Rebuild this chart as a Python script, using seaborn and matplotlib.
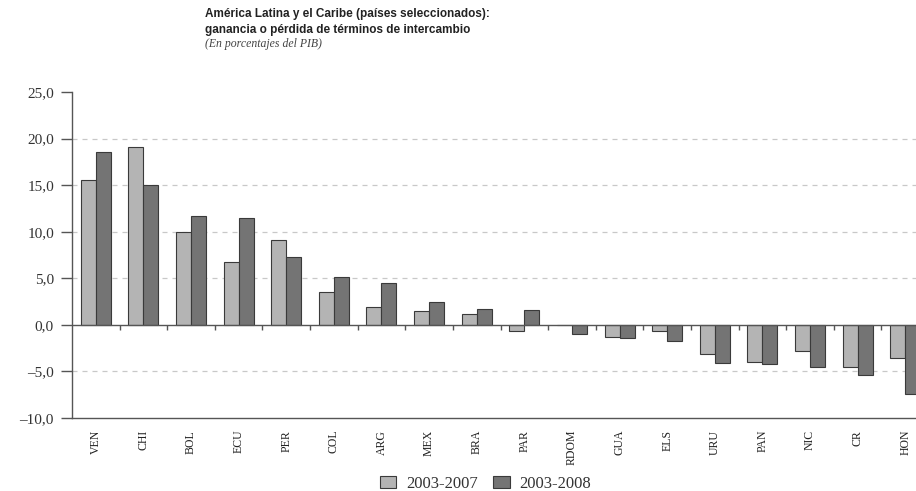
import numpy as np
import pandas as pd
import seaborn as sns
import matplotlib
from matplotlib import pyplot as plt
from matplotlib.ticker import FuncFormatter

paises = ["VEN", "CHI", "BOL", "ECU", "PER", "COL", "ARG", "MEX", "BRA",
          "PAR", "RDOM", "GUA", "ELS", "URU", "PAN", "NIC", "CR", "HON"]
periodos = ["2003-2007", "2003-2008"]
v_2007 = [15.6, 19.1, 10.0, 6.8, 9.1, 3.5, 1.9, 1.5, 1.15,
          -0.7, 0.0, -1.3, -0.7, -3.1, -3.95, -2.85, -4.5, -3.6]
v_2008 = [18.6, 15.05, 11.65, 11.5, 7.3, 5.1, 4.5, 2.5, 1.7,
          1.55, -1.0, -1.45, -1.75, -4.05, -4.2, -4.55, -5.4, -7.4]

df = pd.DataFrame({
    "pais": paises * 2,
    "valor": v_2007 + v_2008,
    "periodo": [periodos[0]] * len(paises) + [periodos[1]] * len(paises),
})

sns.set_style("white")
serif = ["Liberation Serif", "DejaVu Serif"]
sans = ["Liberation Sans", "DejaVu Sans"]

fig = plt.figure(figsize=(9.16, 4.91), dpi=100)
ax = fig.add_axes([0.0786, 0.1487, 0.9356, 0.6639])

sns.barplot(data=df, x="pais", y="valor", hue="periodo", order=paises,
            hue_order=periodos, palette=["#b4b4b4", "#747474"], width=0.63,
            edgecolor="#3a3a3a", linewidth=0.8, ax=ax)

ax.set_xlim(-0.5, len(paises) - 0.5)
ax.set_ylim(-10, 25)
ax.set_yticks(np.arange(-10, 26, 5))
ax.yaxis.set_major_formatter(FuncFormatter(lambda v, p: f"{v:.1f}".replace(".", ",").replace("-", "\u2013")))
for y in [-5, 5, 10, 15, 20]:
    ax.axhline(y, color="#c8c8c8", lw=0.9, ls=(0, (4, 4)), zorder=0)
ax.axhline(0, color="#555555", lw=1.0, zorder=3)
ax.vlines(np.arange(0.5, len(paises) - 1), -0.6, 0, color="#555555", lw=1.0)

for s in ["top", "right"]:
    ax.spines[s].set_visible(False)
for s in ["left", "bottom"]:
    ax.spines[s].set_color("#555555")
    ax.spines[s].set_linewidth(1.0)

ax.tick_params(axis="y", left=True, length=8, width=1.0, color="#555555", pad=5)
ax.tick_params(axis="x", bottom=False, pad=5)
ax.set_xticks(range(len(paises)))
ax.set_xticklabels(paises, rotation=90, fontsize=8.5, family=serif, color="#222222")
for lab in ax.get_yticklabels():
    lab.set_fontfamily(serif)
    lab.set_fontsize(11)
    lab.set_color("#333333")
ax.set_xlabel("")
ax.set_ylabel("")

handles, labels = ax.get_legend_handles_labels()
ax.get_legend().remove()
fig.legend(handles, labels, loc="lower center", bbox_to_anchor=(0.53, -0.032), ncol=2,
           frameon=False, prop={"family": serif, "size": 12}, handlelength=1.0,
           handleheight=0.8, handletextpad=0.6, columnspacing=0.9,
           labelcolor="#333333")

fig.text(0.224, 0.972, "América Latina y el Caribe (países seleccionados):",
         fontsize=8.5, fontweight="bold", family=sans, va="center", color="#222222")
fig.text(0.224, 0.939, "ganancia o pérdida de términos de intercambio",
         fontsize=8.5, fontweight="bold", family=sans, va="center", color="#222222")
fig.text(0.224, 0.910, "(En porcentajes del PIB)", fontsize=8.5, style="italic",
         family=serif, va="center", color="#444444")

plt.savefig("out.png", dpi=100)
